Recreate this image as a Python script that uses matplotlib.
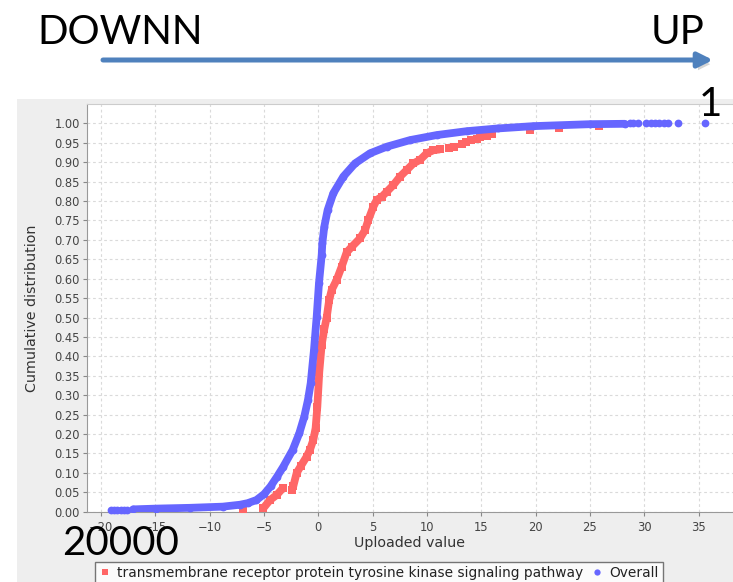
import numpy as np
import matplotlib
matplotlib.use("Agg")
import matplotlib.pyplot as plt
from matplotlib.patches import Rectangle, FancyArrowPatch
from matplotlib.lines import Line2D
import matplotlib.patheffects as pe

# ---- data: cumulative distribution of uploaded values ----
# Overall (all genes): dense curve
overall_x = [-17.05, -14.9, -11.8, -8.8, -7.2, -6.5, -5.7, -5.0, -4.4, -3.8, -3.22, -2.36,
             -1.75, -1.29, -0.95, -0.70, -0.40, -0.15, 0.06, 0.31, 0.37, 0.55, 0.86,
             1.38, 2.30, 3.38, 4.76, 6.3, 8.44, 10.9, 13.66, 16.5, 19.8, 25.0, 28.2]
overall_y = [0.006, 0.008, 0.010, 0.013, 0.018, 0.022, 0.030, 0.045, 0.065, 0.090, 0.116, 0.159,
             0.202, 0.245, 0.288, 0.331, 0.416, 0.502, 0.588, 0.660, 0.691, 0.734, 0.777,
             0.820, 0.863, 0.897, 0.923, 0.940, 0.957, 0.970, 0.980, 0.987, 0.993, 0.998, 0.999]
# Overall: isolated extreme values
overall_tail_x = [-19.1, -18.8, -18.5, -18.2, -17.9, -17.6,
                  28.7, 29.0, 29.4, 30.2, 30.6, 31.0, 31.4, 31.8, 32.2, 33.1, 35.6]
overall_tail_y = [0.004, 0.004, 0.004, 0.005, 0.005, 0.005,
                  1.0, 1.0, 1.0, 1.0, 1.0, 1.0, 1.0, 1.0, 1.0, 1.0, 1.0]

# Pathway genes: low cluster, main curve and sparse upper tail
pathway_low_x = [-5.06, -4.45, -3.83, -3.22]
pathway_low_y = [0.009, 0.030, 0.043, 0.062]
pathway_x = [-2.45, -2.30, -1.99, -1.60, -1.07, -0.76, -0.46, -0.25, -0.09, 0.09, 0.31, 0.55,
             0.77, 1.0, 1.23, 1.69, 2.15, 2.61, 3.07, 3.84, 4.30, 4.60, 5.06, 5.38, 5.84,
             6.30, 6.90, 7.52, 8.14, 8.75, 9.36, 9.98, 10.6, 11.2]
pathway_y = [0.056, 0.066, 0.100, 0.118, 0.142, 0.160, 0.185, 0.215, 0.270, 0.360, 0.430, 0.470,
             0.500, 0.545, 0.571, 0.597, 0.631, 0.668, 0.682, 0.704, 0.725, 0.751, 0.785, 0.803, 0.811,
             0.824, 0.841, 0.863, 0.880, 0.897, 0.906, 0.923, 0.931, 0.933]
pathway_tail_x = [-6.9, 12.0, 12.5, 13.2, 13.6, 14.1, 14.6, 14.9, 15.5, 15.96, 19.5, 22.2, 25.8]
pathway_tail_y = [0.003, 0.936, 0.940, 0.948, 0.952, 0.957, 0.961, 0.964, 0.968, 0.972, 0.983, 0.987, 0.993]

x_ticks = list(range(-20, 36, 5))
y_ticks = [round(0.05 * i, 2) for i in range(21)]
series_labels = ["transmembrane receptor protein tyrosine kinase signaling pathway", "Overall"]

RED = "#FF6666"
BLUE = "#6666FF"

W, H = 733, 582
fig = plt.figure(figsize=(W / 100, H / 100), dpi=100)
fig.patch.set_facecolor("white")

# grey chart panel behind the axes
fig.patches.append(Rectangle((17 / W, 0), 1 - 17 / W, (H - 99) / H,
                             transform=fig.transFigure, facecolor="#EEEEEE",
                             edgecolor="none", zorder=-1))

ax = fig.add_axes([87 / W, (H - 511.7) / H, (W - 87) / W, (511.7 - 104) / H])
ax.set_zorder(1)
ax.set_facecolor("white")
ax.set_xlim(-21.29, 38.17)
ax.set_ylim(0, 1.05)

ax.set_xticks(x_ticks)
ax.set_yticks(y_ticks)
ax.set_yticklabels([f"{v:.2f}" for v in y_ticks])
ax.tick_params(axis="both", labelsize=8.3, colors="#888888", labelcolor="#444444",
               length=3, width=0.8)
ax.tick_params(axis="x", pad=4)
ax.tick_params(axis="y", pad=2)
ax.grid(True, color="#DADADA", linestyle=(0, (2.5, 2.5)), linewidth=0.8)
ax.set_axisbelow(True)
ax.spines["right"].set_visible(False)
ax.spines["top"].set_color("#CCCCCC")
ax.spines["left"].set_color("#999999")
ax.spines["bottom"].set_color("#999999")

ax.set_xlabel("Uploaded value", fontsize=10.3, color="#333333", labelpad=1)
ax.set_ylabel("Cumulative distribution", fontsize=10.3, color="#333333")
ax.yaxis.set_label_coords(-0.074, 0.5)

ms = 5.6
lw = 5.6
ax.plot(pathway_low_x, pathway_low_y, color=RED, lw=lw, marker="s", ms=ms, mew=0,
        solid_capstyle="butt", zorder=3)
ax.plot(pathway_x, pathway_y, color=RED, lw=lw, marker="s", ms=ms, mew=0,
        solid_capstyle="butt", zorder=3)
ax.plot(pathway_tail_x, pathway_tail_y, color=RED, lw=0, marker="s", ms=ms, mew=0, zorder=3)
ax.plot(overall_x, overall_y, color=BLUE, lw=lw, marker="o", ms=ms, mew=0,
        solid_capstyle="round", solid_joinstyle="round", zorder=4)
ax.plot(overall_tail_x, overall_tail_y, color=BLUE, lw=0, marker="o", ms=ms, mew=0,
        clip_on=False, zorder=4)

handles = [Line2D([], [], color=RED, marker="s", lw=0, ms=5, mew=0),
           Line2D([], [], color=BLUE, marker="o", lw=0, ms=4.5, mew=0)]
leg = fig.legend(handles, series_labels, ncol=2, loc="upper left",
                 bbox_to_anchor=(95 / W, 1 - 562 / H), fontsize=9.9,
                 frameon=True, fancybox=False, edgecolor="#555555",
                 handlelength=0.8, handletextpad=0.5, columnspacing=0.6,
                 borderpad=0.3, borderaxespad=0)
leg.get_frame().set_linewidth(1.0)
leg.set_zorder(5)
for t in leg.get_texts():
    t.set_color("#222222")

# annotation: direction arrow and labels
arrow = FancyArrowPatch((103 / W, 1 - 60 / H), (713 / W, 1 - 60 / H),
                        transform=fig.transFigure, arrowstyle="-|>",
                        mutation_scale=22, lw=3.6, color="#4F81BD",
                        shrinkA=0, shrinkB=0, zorder=5)
arrow.set_path_effects([pe.SimplePatchShadow(offset=(2, -3), shadow_rgbFace="#888888", alpha=0.35),
                        pe.Normal()])
fig.patches.append(arrow)

big = dict(family="Lato", color="black", zorder=10)
fig.text(37 / W, 1 - 44 / H, "DOWNN", fontsize=29, ha="left", va="baseline", **big)
fig.text(705 / W, 1 - 44 / H, "UP", fontsize=29, ha="right", va="baseline", **big)
fig.text(710 / W, 1 - 116 / H, "1", fontsize=29, ha="center", va="baseline", **big)
fig.text(62 / W, 1 - 555 / H, "20000", fontsize=29, ha="left", va="baseline", **big)

fig.savefig("out.png", dpi=100)
